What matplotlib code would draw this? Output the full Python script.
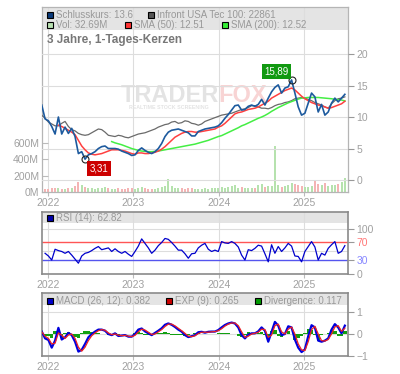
import numpy as np
import matplotlib
matplotlib.use("Agg")
import matplotlib.pyplot as plt
from matplotlib.patches import Rectangle

plt.rcParams['font.family'] = ['Liberation Sans', 'DejaVu Sans']

# ---- data (one value every ~2 weeks) ----
start_year = 2021.93
step_years = 14.23 / 365.25

price = [11.9, 9.7, 9.4, 8.5, 7.3, 10.0, 7.3, 8.4, 7.4, 8.2,
         6.9, 4.2, 4.5, 3.31, 4.0, 4.2, 4.5, 5.0, 5.3, 5.4,
         5.0, 5.0, 5.0, 4.9, 4.6, 4.4, 4.2, 3.9, 4.0, 4.7,
         5.1, 4.7, 4.4, 4.2, 4.5, 5.0, 5.8, 6.9, 7.6, 7.9,
         8.0, 8.1, 7.9, 7.7, 7.5, 7.0, 7.0, 7.7, 7.9, 8.1,
         8.2, 8.3, 8.4, 8.6, 9.1, 9.8, 10.4, 11.1, 11.8, 11.9,
         11.1, 11.2, 11.7, 11.9, 11.7, 12.0, 12.8, 11.9, 13.0, 14.0,
         14.7, 15.1, 13.8, 14.6, 14.8, 15.89, 13.8, 11.6, 10.3, 10.6,
         12.2, 13.8, 13.2, 10.8, 12.0, 10.3, 10.8, 12.2, 13.0, 12.4,
         13.0, 13.6]

index_tec = [10.3, 9.8, 9.2, 8.9, 8.6, 8.6, 9.0, 9.3, 8.5, 8.0,
             7.8, 7.4, 7.2, 7.1, 7.2, 7.5, 7.8, 8.1, 8.0, 7.6,
             7.1, 7.0, 6.9, 7.1, 7.0, 6.8, 6.7, 6.9, 7.1, 7.3,
             7.4, 7.5, 7.7, 7.9, 8.1, 8.4, 8.6, 8.8, 8.9, 9.2,
             9.3, 9.0, 9.1, 9.4, 9.3, 9.0, 8.9, 8.7, 8.9, 9.3,
             9.5, 9.7, 9.9, 10.1, 10.3, 10.4, 10.5, 10.6, 10.8, 11.0,
             11.2, 11.3, 11.5, 11.8, 11.8, 11.6, 11.4, 11.4, 11.3, 11.5,
             11.8, 12.0, 12.1, 12.3, 12.4, 12.6, 12.9, 13.0, 13.1, 13.0,
             12.8, 12.6, 12.3, 12.1, 11.9, 11.6, 11.4, 12.1, 12.6, 12.9,
             13.0, 13.2]

sma50 = [None, None, None, None, None, 8.7, 8.5, 8.2, 7.9, 7.6,
         7.2, 6.3, 5.4, 4.8, 4.3, 4.1, 4.0, 4.1, 4.2, 4.4,
         4.6, 4.8, 4.8, 4.8, 4.7, 4.6, 4.4, 4.2, 4.1, 4.3,
         4.3, 4.2, 4.2, 4.3, 4.4, 4.6, 4.9, 5.3, 5.8, 6.3,
         6.8, 7.1, 7.4, 7.6, 7.7, 7.7, 7.6, 7.6, 7.7, 7.8,
         7.9, 8.0, 8.1, 8.4, 8.6, 9.0, 9.5, 10.0, 10.5, 10.7,
         10.8, 11.0, 11.2, 11.3, 11.4, 11.6, 11.9, 12.2, 12.5, 13.0,
         13.3, 13.6, 13.9, 14.2, 14.4, 14.6, 14.3, 13.8, 13.3, 12.9,
         12.6, 12.3, 12.1, 11.9, 11.8, 11.6, 11.4, 11.5, 11.7, 11.9,
         12.1, 12.5]

sma200 = [None] * 21 + [
          6.1, 5.9, 5.75, 5.6, 5.4, 5.2, 5.0, 4.85, 4.7,
          4.6, 4.55, 4.5, 4.5, 4.55, 4.6, 4.7, 4.8, 4.9, 5.0,
          5.1, 5.2, 5.3, 5.4, 5.5, 5.6, 5.7, 5.85, 6.0, 6.15,
          6.3, 6.5, 6.7, 6.9, 7.05, 7.3, 7.55, 7.8, 8.05, 8.3,
          8.6, 8.8, 9.05, 9.3, 9.55, 9.8, 10.0, 10.25, 10.55, 10.9,
          11.2, 11.5, 11.75, 12.0, 12.25, 12.45, 12.65, 12.85, 13.0, 13.05,
          13.1, 13.1, 13.1, 13.1, 13.05, 13.0, 12.95, 12.9, 12.8, 12.75,
          12.7, 12.55]

volume_m = [60, 35, 40, 55, 50, 45, 40, 35, 45, 50,
            70, 125, 80, 60, 55, 45, 40, 50, 45, 60,
            45, 40, 35, 50, 40, 35, 45, 55, 40, 50,
            65, 45, 40, 35, 40, 55, 60, 75, 165, 70,
            55, 50, 45, 40, 50, 45, 40, 35, 40, 45,
            40, 45, 50, 55, 60, 50, 65, 70, 80, 55,
            60, 50, 45, 50, 55, 80, 100, 65, 70, 75,
            560, 80, 60, 70, 85, 110, 100, 90, 70, 60,
            65, 70, 130, 95, 80, 110, 75, 80, 90, 100,
            120, 170]

rsi = [None, 46, 40, 31, 55, 52, 50, 46, 50, 42,
       33, 24, 40, 46, 48, 52, 57, 61, 54, 56,
       58, 50, 56, 50, 46, 50, 44, 39, 50, 62,
       78, 68, 58, 46, 53, 63, 70, 79, 77, 70,
       62, 53, 53, 45, 35, 45, 46, 58, 64, 68,
       55, 50, 53, 50, 72, 69, 68, 72, 68, 60,
       42, 31, 54, 52, 57, 64, 62, 45, 27, 65,
       46, 61, 50, 58, 68, 62, 40, 39, 27, 50,
       61, 72, 60, 31, 46, 42, 57, 65, 72, 46,
       50, 63]

macd = [0.11, -0.2, -0.27, -0.62, -0.3, 0.28, -0.25, -0.15, 0.05, -0.05,
        -0.35, -0.8, -0.72, -0.45, -0.15, 0.0, 0.11, 0.2, 0.2, 0.15,
        0.0, -0.05, 0.03, -0.09, -0.07, -0.05, -0.12, -0.12, 0.0, 0.2,
        0.25, 0.12, 0.03, -0.05, 0.05, 0.15, 0.26, 0.42, 0.48, 0.42,
        0.32, 0.2, 0.11, -0.05, -0.14, -0.1, -0.05, 0.08, 0.1, 0.06,
        0.1, 0.11, 0.11, 0.18, 0.3, 0.41, 0.48, 0.52, 0.48, 0.3,
        -0.05, -0.2, -0.03, 0.03, 0.03, 0.12, 0.3, 0.15, -0.35, 0.1,
        0.55, 0.38, -0.05, 0.0, 0.35, 0.3, -0.25, -0.62, -0.82, -0.7,
        -0.1, 0.4, 0.3, -0.3, -0.35, -0.3, -0.2, 0.2, 0.45, 0.3,
        0.03, 0.38]

macd_exp = [0.1, -0.1, -0.2, -0.45, -0.42, 0.05, -0.05, -0.2, -0.05, 0.0,
            -0.2, -0.6, -0.78, -0.6, -0.3, -0.08, 0.05, 0.15, 0.2, 0.17,
            0.05, -0.03, 0.0, -0.05, -0.08, -0.06, -0.1, -0.12, -0.06, 0.1,
            0.22, 0.18, 0.08, -0.02, 0.0, 0.1, 0.2, 0.34, 0.45, 0.45,
            0.37, 0.26, 0.15, 0.03, -0.1, -0.12, -0.08, 0.02, 0.08, 0.08,
            0.08, 0.1, 0.11, 0.15, 0.24, 0.36, 0.45, 0.5, 0.5, 0.38,
            0.1, -0.15, -0.1, 0.0, 0.03, 0.08, 0.22, 0.2, -0.15, -0.05,
            0.38, 0.45, 0.1, 0.0, 0.22, 0.32, 0.0, -0.45, -0.72, -0.75,
            -0.35, 0.2, 0.35, 0.0, -0.3, -0.32, -0.25, 0.0, 0.32, 0.38,
            0.12, 0.265]

divergence = [0.01, -0.1, -0.07, -0.17, 0.12, 0.23, -0.2, 0.05, 0.1, -0.05,
              -0.15, -0.2, 0.06, 0.15, 0.15, 0.08, 0.06, 0.05, 0.0, -0.02,
              -0.05, -0.02, 0.03, -0.04, 0.01, 0.01, -0.02, 0.0, 0.06, 0.1,
              0.03, -0.06, -0.05, -0.03, 0.05, 0.05, 0.06, 0.08, 0.03, -0.03,
              -0.05, -0.06, -0.04, -0.08, -0.04, 0.02, 0.03, 0.06, 0.02, -0.02,
              0.02, 0.01, 0.0, 0.03, 0.06, 0.05, 0.03, 0.02, -0.02, -0.08,
              -0.15, -0.05, 0.07, 0.03, 0.0, 0.04, 0.08, -0.05, -0.2, 0.15,
              0.17, -0.07, -0.15, 0.0, 0.13, -0.02, -0.25, -0.17, -0.1, 0.05,
              0.25, 0.2, -0.05, -0.3, -0.05, 0.02, 0.05, 0.2, 0.13, -0.08,
              -0.09, 0.117]

years = [2022, 2023, 2024, 2025]
peak_label = "15,89"
low_label = "3,31"

# ---- layout ----
t = start_year + np.arange(len(price)) * step_years
x_min, x_max = 2021.933, 2025.512
GRID = '#dddddd'
LABEL = '#a0a0a0'

fig = plt.figure(figsize=(4, 3.74), dpi=100)
ax_vol = fig.add_axes([0.105, 0.4866, 0.765, 0.4947])
ax = ax_vol.twinx()
ax_rsi = fig.add_axes([0.105, 0.2674, 0.765, 0.1658])
ax_macd = fig.add_axes([0.105, 0.0481, 0.765, 0.1685])


def style_panel(a, edge, lw):
    a.set_xlim(x_min, x_max)
    a.set_xticks(years)
    a.set_xticklabels([str(y) for y in years])
    a.tick_params(axis='x', colors='#bbbbbb', labelcolor=LABEL, labelsize=7.5,
                  length=3, pad=1)
    a.grid(axis='x', color=GRID, lw=0.8)
    a.set_axisbelow(True)
    for s in a.spines.values():
        s.set_color(edge)
        s.set_linewidth(lw)


def legend_item(a, x, y, color, text):
    a.plot([x], [y], marker='s', ms=4.5, mfc=color, mec='black', mew=0.8,
           transform=a.transAxes, clip_on=False, zorder=6)
    a.text(x + 0.02, y, text, transform=a.transAxes, fontsize=7, color='#999999',
           va='center', ha='left', zorder=6)


# ---- main panel ----
style_panel(ax_vol, '#b5b5b5', 0.9)
for s in ax.spines.values():
    s.set_visible(False)
ax_vol.add_patch(Rectangle((0, 0.876), 1, 0.124, transform=ax_vol.transAxes,
                           fc='#e4e4e4', ec='none', zorder=0))

up = np.r_[True, np.diff(price) >= 0]
vol_colors = np.where(up, '#b6e2ae', '#f4b4b4')
ax_vol.bar(t, volume_m, width=step_years * 0.6, color=vol_colors, zorder=1)
ax_vol.set_ylim(0, 2270)
ax_vol.set_yticks([0, 200, 400, 600])
ax_vol.set_yticklabels(['0M', '200M', '400M', '600M'])
ax_vol.tick_params(axis='y', direction='in', length=4, colors='#bbbbbb',
                   labelcolor=LABEL, labelsize=7.5, pad=2)

ax_vol.text(0.578, 0.524, 'TRADER', transform=ax_vol.transAxes, fontsize=17,
            fontweight='bold', color='#e3e3e3', ha='right', va='center', zorder=0.6)
ax_vol.text(0.578, 0.524, 'FOX', transform=ax_vol.transAxes, fontsize=17,
            fontweight='bold', color='#f8d4d4', ha='left', va='center', zorder=0.6)
ax_vol.text(0.415, 0.455, 'REALTIME STOCK SCREENING', transform=ax_vol.transAxes,
            fontsize=3.8, fontweight='bold', color='#e3e3e3', ha='center',
            va='center', zorder=0.6)

ax.set_ylim(-1.9, 27.46)
ax.set_yticks([0, 5, 10, 15, 20])
ax.tick_params(axis='y', direction='out', length=4, colors='#999999',
               labelcolor=LABEL, labelsize=7.5, pad=2)
ax.grid(axis='y', color=GRID, lw=0.8)
ax.set_axisbelow(True)

ax.plot(t, index_tec, color='#6a6a6a', lw=0.9, zorder=3)
ax.plot(t, np.array(sma200, dtype=float), color='#44ee44', lw=1.1, zorder=3)
ax.plot(t, np.array(sma50, dtype=float), color='#ff4040', lw=1.1, zorder=3)
ax.plot(t, price, color='#1d5a9e', lw=1.2, zorder=4)

i_hi = int(np.argmax(price))
i_lo = int(np.argmin(price))
for i, lab, fc, off in [(i_hi, peak_label, '#119911', (-11, 6)),
                        (i_lo, low_label, '#cc0000', (10, -7))]:
    ax.plot(t[i], price[i], 'o', ms=5, mfc='none', mec='#222222', mew=0.8, zorder=5)
    ax.annotate(lab, xy=(t[i], price[i]), xytext=off, textcoords='offset points',
                ha='center', va='center', color='white', fontsize=7, zorder=6,
                bbox=dict(boxstyle='square,pad=0.25', fc=fc, ec='none'))

legend_item(ax, 0.026, 0.957, '#0a3a7a', 'Schlusskurs: 13.6')
legend_item(ax, 0.356, 0.957, '#555555', 'Infront USA Tec 100: 22861')
legend_item(ax, 0.026, 0.903, '#b8e0b0', 'Vol: 32.69M')
legend_item(ax, 0.281, 0.903, '#ff3333', 'SMA (50): 12.51')
legend_item(ax, 0.598, 0.903, '#33ee33', 'SMA (200): 12.52')
ax.text(0.016, 0.822, '3 Jahre, 1-Tages-Kerzen', transform=ax.transAxes,
        fontsize=8.5, fontweight='bold', color='#777777', va='center', ha='left')

# ---- RSI panel ----
style_panel(ax_rsi, '#8a8a8a', 1.2)
ax_rsi.add_patch(Rectangle((0, 0.823), 1, 0.177, transform=ax_rsi.transAxes,
                           fc='#e4e4e4', ec='none', zorder=0))
ax_rsi.set_ylim(0, 137.8)
for lvl in [50, 100]:
    ax_rsi.axhline(lvl, color=GRID, lw=0.8, zorder=0.5)
ax_rsi.axhline(70, color='#ff5555', lw=1.0, zorder=2)
ax_rsi.axhline(30, color='#5555ee', lw=1.0, zorder=2)
ax_rsi.plot(t, np.array(rsi, dtype=float), color='#0000cc', lw=0.9, zorder=3)
ax_rsi.yaxis.tick_right()
ax_rsi.set_yticks([0, 30, 70, 100])
ax_rsi.tick_params(axis='y', direction='out', length=4, colors='#999999',
                   labelsize=7.5, pad=2)
for lab, c in zip(ax_rsi.get_yticklabels(), [LABEL, '#8888ff', '#ff7777', LABEL]):
    lab.set_color(c)
legend_item(ax_rsi, 0.026, 0.903, '#0000aa', 'RSI (14): 62.82')

# ---- MACD panel ----
style_panel(ax_macd, '#8a8a8a', 1.2)
ax_macd.add_patch(Rectangle((0, 0.81), 1, 0.19, transform=ax_macd.transAxes,
                            fc='#e4e4e4', ec='none', zorder=0))
ax_macd.set_ylim(-1, 1.864)
for lvl in [0, 1]:
    ax_macd.axhline(lvl, color=GRID, lw=0.8, zorder=0.5)
ax_macd.bar(t, divergence, width=step_years, color='#11a011', zorder=2)
ax_macd.plot(t, macd, color='#0000dd', lw=1.6, zorder=3)
ax_macd.plot(t, macd_exp, color='#ee2222', lw=0.9, zorder=4)
ax_macd.yaxis.tick_right()
ax_macd.set_yticks([-1, 0, 1])
ax_macd.tick_params(axis='y', direction='out', length=4, colors='#999999',
                    labelcolor=LABEL, labelsize=7.5, pad=2)
legend_item(ax_macd, 0.026, 0.878, '#0000cc', 'MACD (26, 12): 0.382')
legend_item(ax_macd, 0.414, 0.878, '#cc0000', 'EXP (9): 0.265')
legend_item(ax_macd, 0.705, 0.878, '#009900', 'Divergence: 0.117')

fig.savefig('out.png', dpi=100)
